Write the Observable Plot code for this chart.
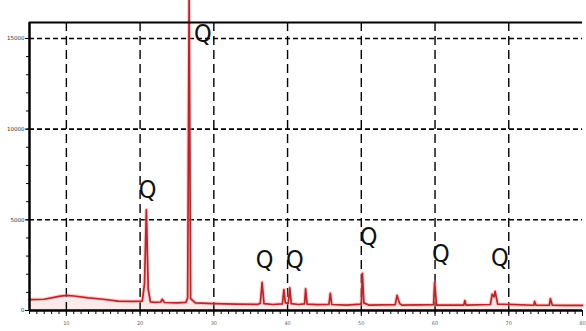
<!DOCTYPE html>
<html>
<head>
<meta charset="utf-8">
<script src="https://cdn.jsdelivr.net/npm/d3@7"></script>
<script src="https://cdn.jsdelivr.net/npm/@observablehq/plot@0.6"></script>
<style>
  html, body { margin: 0; padding: 0; background: #fff; }
  #chart { width: 586px; height: 331px; overflow: hidden; }
</style>
</head>
<body>
<div id="chart"></div>
<script>
// 2θ (degrees) of the measured pattern
const twoTheta = [5, 7, 9, 10, 11, 13, 15, 17, 19, 20.3, 20.6, 20.85, 21.1, 21.4, 22, 22.8, 23.0, 23.3, 25, 26.2, 26.45, 26.65, 26.85, 27.5, 30, 33, 36, 36.3, 36.55, 36.8, 38, 39.3, 39.5, 39.7, 40.1, 40.3, 40.5, 41.5, 42.3, 42.45, 42.65, 44, 45.6, 45.8, 46.0, 48, 50.0, 50.15, 50.35, 51, 54.6, 54.85, 55.2, 55.5, 59.8, 59.95, 60.2, 63.9, 64.05, 64.2, 67.5, 67.75, 68.0, 68.15, 68.5, 73.4, 73.5, 73.7, 75.5, 75.65, 75.9, 77.6, 80];
// intensity (counts)
const counts = [600, 620, 780, 830, 800, 700, 620, 520, 500, 520, 1500, 5550, 1200, 480, 450, 470, 620, 440, 420, 450, 700, 17300, 650, 420, 380, 350, 340, 400, 1550, 380, 330, 360, 1150, 420, 400, 1250, 380, 330, 360, 1200, 350, 320, 330, 950, 330, 300, 350, 2050, 420, 300, 320, 830, 380, 300, 320, 1550, 300, 300, 550, 300, 330, 900, 750, 1050, 350, 290, 500, 290, 300, 650, 300, 280, 280];

// "Q" (quartz) peak labels
const qLabel = ["Q", "Q", "Q", "Q", "Q", "Q", "Q"];
const qX = [28.5, 21.0, 36.9, 41.0, 51.0, 60.8, 68.8];
const qY = [15270, 6620, 2760, 2760, 4030, 3140, 2920];

// axis ticks
const xTicks = [10, 20, 30, 40, 50, 60, 70, 80];
const xTickLabels = ["10", "20", "30", "40", "50", "60", "70", "80"];
const yTicks = [0, 5000, 10000, 15000];
const yTickLabels = ["0", "5000", "10000", "15000"];
const xGrid = [10, 20, 30, 40, 50, 60, 70];
const yGrid = [5000, 10000, 15000];

const pattern = twoTheta.map((t, i) => ({t, c: counts[i]}));
const qs = qLabel.map((s, i) => ({s, x: qX[i], y: qY[i]}));

const chart = Plot.plot({
  width: 586,
  height: 331,
  marginLeft: 29,
  marginRight: 4,
  marginTop: 22,
  marginBottom: 21,
  style: {background: "#fff", fontFamily: "DejaVu Sans, sans-serif", overflow: "visible"},
  x: {domain: [5, 80]},
  y: {domain: [0, 15880]},
  marks: [
    Plot.areaY(pattern, {x: "t", y: "c", fill: "#fbe4e4", fillOpacity: 0.8}),
    Plot.ruleX(xGrid, {stroke: "#000", strokeWidth: 1.4, strokeDasharray: "9,5"}),
    Plot.ruleY(yGrid, {stroke: "#000", strokeWidth: 1.6, strokeDasharray: "5,3"}),
    Plot.line(pattern, {x: "t", y: "c", stroke: "#e9a0a0", strokeWidth: 4, strokeOpacity: 0.45}),
    Plot.line(pattern, {x: "t", y: "c", stroke: "#b8262b", strokeWidth: 1.7}),
    Plot.ruleY([15880], {stroke: "#000", strokeWidth: 2}),
    Plot.ruleX([5], {stroke: "#000", strokeWidth: 2.5}),
    Plot.ruleY([0], {stroke: "#000", strokeWidth: 2.5}),
    Plot.axisX({ticks: d3.range(5, 81, 1), tickSize: 4, tickFormat: () => "", stroke: "#000"}),
    Plot.axisX({ticks: xTicks, tickSize: 6, tickFormat: (d) => xTickLabels[xTicks.indexOf(d)], fontSize: 5, fill: "#666", tickPadding: 5, stroke: "#000"}),
    Plot.axisY({ticks: d3.range(0, 15001, 1000), tickSize: 3, tickFormat: () => "", stroke: "#000"}),
    Plot.axisY({ticks: yTicks, tickSize: 4, tickFormat: (d) => yTickLabels[yTicks.indexOf(d)], fontSize: 5.5, fill: "#333", tickPadding: 1, stroke: "#000"}),
    Plot.text(qs, {x: "x", y: "y", text: "s", fontSize: 25, fill: "#111", fontFamily: "Liberation Sans Narrow, DejaVu Sans Condensed, sans-serif", textAnchor: "middle", lineAnchor: "middle"})
  ]
});
document.getElementById("chart").appendChild(chart);
</script>
</body>
</html>
